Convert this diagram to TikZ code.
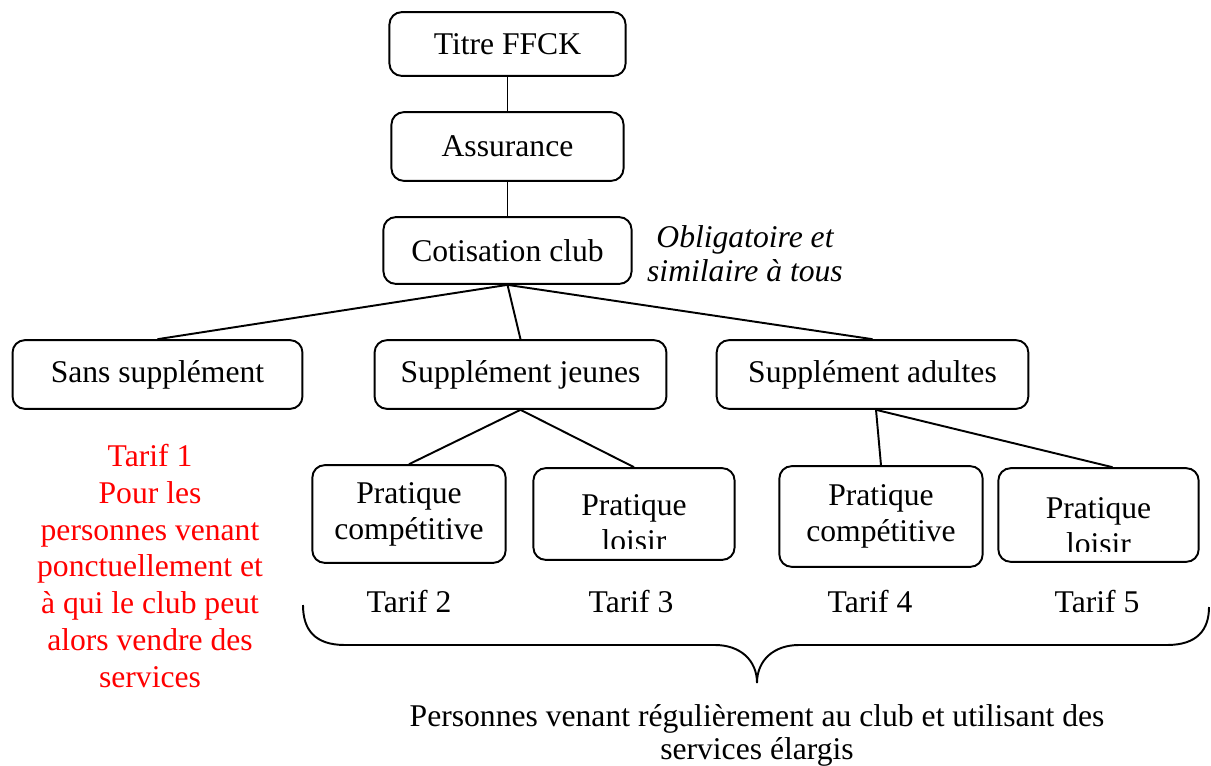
\documentclass[tikz,border=0pt]{standalone}
\usepackage{fontspec}
\setmainfont{Liberation Serif}
\begin{document}
\begin{tikzpicture}[x=0.02cm,y=-0.02cm,
  font=\fontsize{18}{20.5}\selectfont,
  box/.style={draw, line width=1.1pt, rounded corners=7pt, inner sep=0pt, align=center},
  link/.style={line width=1.1pt},
  lbl/.style={inner sep=0pt, align=center}]
\useasboundingbox (0,0) rectangle (1211,765);
% boxes
\node[box, minimum width=134.4pt, minimum height=36.3pt] (titre) at (507.5,44) {Titre FFCK};
\node[box, minimum width=132.1pt, minimum height=39.1pt] (assur) at (507.5,146.5) {Assurance};
\node[box, minimum width=141.2pt, minimum height=38.0pt] (cotis) at (507.5,250.5) {Cotisation club};
\node[lbl, font=\fontsize{18}{19.3}\selectfont\itshape] (oblig) at (745,254) {Obligatoire et\\similaire à tous};
\node[box, minimum width=165.0pt, minimum height=39.1pt] (sans) at (157.5,374.5) {Sans supplément};
\node[box, minimum width=166.1pt, minimum height=39.1pt] (jeunes) at (520.5,374.5) {Supplément jeunes};
\node[box, minimum width=177.4pt, minimum height=39.1pt] (adultes) at (872.5,374.5) {Supplément adultes};
\node[box, minimum width=110.0pt, minimum height=55.6pt] (comp1) at (409,514) {Pratique\\compétitive};
\node[box, minimum width=114.5pt, minimum height=52.2pt] (loisir1) at (634,514) {};
\node[box, minimum width=115.7pt, minimum height=57.3pt] (comp2) at (881,516.5) {Pratique\\compétitive};
\node[box, minimum width=114.0pt, minimum height=53.3pt] (loisir2) at (1098.5,515) {};
\begin{scope}
  \clip (533,468) rectangle (735,548);
  \node[lbl] (loisir1t) at (634,523) {Pratique\\loisir};
\end{scope}
\begin{scope}
  \clip (998,468) rectangle (1199,551);
  \node[lbl] (loisir2t) at (1098.5,526) {Pratique\\loisir};
\end{scope}
% connectors
\draw[link] (titre.south) -- (assur.north);
\draw[link] (assur.south) -- (cotis.north);
\draw[link] (cotis.south) -- (sans.north);
\draw[link] (cotis.south) -- (jeunes.north);
\draw[link] (cotis.south) -- (adultes.north);
\draw[link] (jeunes.south) -- (comp1.north);
\draw[link] (jeunes.south) -- (loisir1.north);
\draw[link] ([xshift=2pt]adultes.south) -- (comp2.north);
\draw[link] ([xshift=2pt]adultes.south) -- ([xshift=8pt]loisir2.north);
% tarifs
\node[lbl] (t2) at (409,602) {Tarif 2};
\node[lbl] (t3) at (631,602) {Tarif 3};
\node[lbl] (t4) at (870,602) {Tarif 4};
\node[lbl] (t5) at (1097,602) {Tarif 5};
\node[lbl, text=red, font=\fontsize{18}{21}\selectfont] (t1) at (150,566)
  {Tarif 1\\Pour les\\personnes venant\\ponctuellement et\\à qui le club peut\\alors vendre des\\services};
% brace
\coordinate (bl) at (303,605);
\coordinate (br) at (1209,607);
\coordinate (btip) at (757,683);
\draw[line width=1.1pt] (bl) .. controls (303,630) and (315,645) .. (345,645)
  -- (715,645) .. controls (740,645) and (757,660) .. (btip)
  .. controls (757,660) and (774,645) .. (799,645)
  -- (1167,645) .. controls (1197,645) and (1209,630) .. (br);
\node[lbl, font=\fontsize{18}{18.7}\selectfont] (pers) at (757,735)
  {Personnes venant régulièrement au club et utilisant des\\services élargis};
\end{tikzpicture}
\end{document}
